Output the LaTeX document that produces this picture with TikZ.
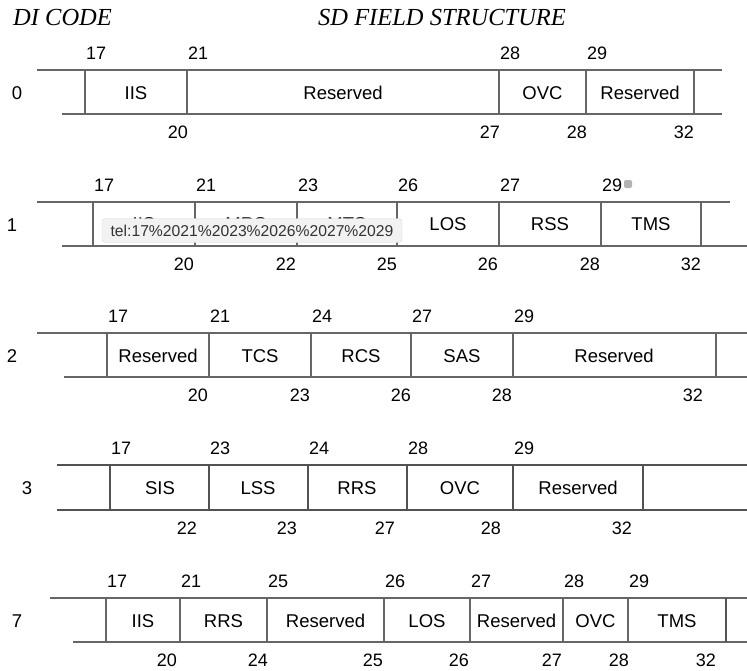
\documentclass[tikz,border=0pt]{standalone}
\usepackage{fontspec}
\setmainfont{Liberation Serif}
\setsansfont{Liberation Sans}
\usepackage{tikz}

\tikzset{
    rule/.style={draw=black!60, line width=1.3pt},
    darkrule/.style={draw=black!68, line width=1.6pt},
    lab/.style={font=\sffamily\fontsize{18.5}{18.5}\selectfont, anchor=base, inner sep=0pt},
    topnum/.style={lab, font=\sffamily\fontsize{18}{18}\selectfont, anchor=base west},
    botnum/.style={lab, font=\sffamily\fontsize{18}{18}\selectfont, anchor=base east},
    title/.style={font=\itshape\fontsize{24.5}{24.5}\selectfont, anchor=base west, inner sep=0pt},
    tip/.style={fill=black!5, draw=black!15, rounded corners=3pt, inner sep=0pt,
        minimum width=300pt, minimum height=24pt, text=black!80,
        font=\sffamily\fontsize{15.7}{15.7}\selectfont},
}

\begin{document}
\begin{tikzpicture}[x=1pt, y=-1pt]
    \useasboundingbox (0,0) rectangle (747,670);

    \node[title] (dicode) at (13,25) {DI CODE};
    \node[title] (sdfield) at (318,25) {SD FIELD STRUCTURE};

    % row 0
    \draw[rule] (37,70) -- (722,70); % top
    \draw[rule] (62,114) -- (722,114); % bottom
    \draw[rule] (85,70) -- (85,114) (187,70) -- (187,114) (499,70) -- (499,114)
        (586,70) -- (586,114) (694,70) -- (694,114);
    \node[lab] (di0) at (17,99.5) {0};
    \node[topnum] (t0a) at (86,59) {17};
    \node[topnum] (t0b) at (188,59) {21};
    \node[topnum] (t0c) at (500,59) {28};
    \node[topnum] (t0d) at (587,59) {29};
    \node[botnum] (b0a) at (188,138) {20};
    \node[botnum] (b0b) at (500,138) {27};
    \node[botnum] (b0c) at (587,138) {28};
    \node[botnum] (b0d) at (694,138) {32};
    \node[lab] (f0a) at (136,99.5) {IIS};
    \node[lab] (f0b) at (343,99.5) {Reserved};
    \node[lab] (f0c) at (542.5,99.5) {OVC};
    \node[lab] (f0d) at (640,99.5) {Reserved};

    % row 1
    \draw[rule] (37,202) -- (730,202); % top
    \draw[rule] (62,246) -- (747,246); % bottom
    \draw[rule] (93,202) -- (93,246) (195,202) -- (195,246) (297,202) -- (297,246)
        (397,202) -- (397,246) (499,202) -- (499,246) (601,202) -- (601,246)
        (701,202) -- (701,246);
    \node[lab] (di1) at (12,231) {1};
    \node[topnum] (t1a) at (94,191) {17};
    \node[topnum] (t1b) at (196,191) {21};
    \node[topnum] (t1c) at (298,191) {23};
    \node[topnum] (t1d) at (398,191) {26};
    \node[topnum] (t1e) at (500,191) {27};
    \node[topnum] (t1f) at (602,191) {29};
    \node[fill=black!30, rounded corners=2pt, minimum size=8pt, inner sep=0pt] (icon) at (628,184) {};
    \node[botnum] (b1a) at (194,270) {20};
    \node[botnum] (b1b) at (296,270) {22};
    \node[botnum] (b1c) at (397,270) {25};
    \node[botnum] (b1d) at (498,270) {26};
    \node[botnum] (b1e) at (600,270) {28};
    \node[botnum] (b1f) at (701,270) {32};
    \node[lab] (f1a) at (144,230) {IIS};
    \node[lab] (f1b) at (246,230) {MRS};
    \node[lab] (f1c) at (347,230) {MTS};
    \node[lab] (f1d) at (448,230) {LOS};
    \node[lab] (f1e) at (550,230) {RSS};
    \node[lab] (f1f) at (651,230) {TMS};
    \node[tip] (tel) at (252,230.5) {tel:17\%2021\%2023\%2026\%2027\%2029};

    % row 2
    \draw[rule] (37,333) -- (747,333); % top
    \draw[rule] (64,377) -- (747,377); % bottom
    \draw[rule] (107,333) -- (107,377) (209,333) -- (209,377) (311,333) -- (311,377)
        (411,333) -- (411,377) (513,333) -- (513,377) (716,333) -- (716,377);
    \node[lab] (di2) at (12,362) {2};
    \node[topnum] (t2a) at (108,322) {17};
    \node[topnum] (t2b) at (210,322) {21};
    \node[topnum] (t2c) at (312,322) {24};
    \node[topnum] (t2d) at (412,322) {27};
    \node[topnum] (t2e) at (514,322) {29};
    \node[botnum] (b2a) at (208,401) {20};
    \node[botnum] (b2b) at (310,401) {23};
    \node[botnum] (b2c) at (411,401) {26};
    \node[botnum] (b2d) at (512,401) {28};
    \node[botnum] (b2e) at (703,401) {32};
    \node[lab] (f2a) at (158,362) {Reserved};
    \node[lab] (f2b) at (260,362) {TCS};
    \node[lab] (f2c) at (361,362) {RCS};
    \node[lab] (f2d) at (462,362) {SAS};
    \node[lab] (f2e) at (614,362) {Reserved};

    % row 3
    \draw[darkrule] (57,465) -- (747,465); % top
    \draw[darkrule] (57,510) -- (747,510); % bottom
    \draw[darkrule] (110,465) -- (110,510) (209,465) -- (209,510) (308,465) -- (308,510)
        (407,465) -- (407,510) (513,465) -- (513,510) (643,465) -- (643,510);
    \node[lab] (di3) at (27,494.5) {3};
    \node[topnum] (t3a) at (111,454) {17};
    \node[topnum] (t3b) at (210,454) {23};
    \node[topnum] (t3c) at (309,454) {24};
    \node[topnum] (t3d) at (408,454) {28};
    \node[topnum] (t3e) at (514,454) {29};
    \node[botnum] (b3a) at (197,534) {22};
    \node[botnum] (b3b) at (297,534) {23};
    \node[botnum] (b3c) at (395,534) {27};
    \node[botnum] (b3d) at (501,534) {28};
    \node[botnum] (b3e) at (632,534) {32};
    \node[lab] (f3a) at (160,494.5) {SIS};
    \node[lab] (f3b) at (258,494.5) {LSS};
    \node[lab] (f3c) at (357,494.5) {RRS};
    \node[lab] (f3d) at (460,494.5) {OVC};
    \node[lab] (f3e) at (578,494.5) {Reserved};

    % row 7
    \draw[rule] (50,598) -- (747,598); % top
    \draw[rule] (73,642) -- (747,642); % bottom
    \draw[rule] (106,598) -- (106,642) (180,598) -- (180,642) (267,598) -- (267,642)
        (384,598) -- (384,642) (470,598) -- (470,642) (563,598) -- (563,642)
        (628,598) -- (628,642);
    \draw[darkrule] (726,598) -- (726,642);
    \node[lab] (di7) at (17,627) {7};
    \node[topnum] (t7a) at (107,587) {17};
    \node[topnum] (t7b) at (181,587) {21};
    \node[topnum] (t7c) at (268,587) {25};
    \node[topnum] (t7d) at (385,587) {26};
    \node[topnum] (t7e) at (471,587) {27};
    \node[topnum] (t7f) at (564,587) {28};
    \node[topnum] (t7g) at (629,587) {29};
    \node[botnum] (b7a) at (177,666) {20};
    \node[botnum] (b7b) at (268,666) {24};
    \node[botnum] (b7c) at (383,666) {25};
    \node[botnum] (b7d) at (469,666) {26};
    \node[botnum] (b7e) at (562,666) {27};
    \node[botnum] (b7f) at (629,666) {28};
    \node[botnum] (b7g) at (716,666) {32};
    \node[lab] (f7a) at (143,627) {IIS};
    \node[lab] (f7b) at (223.5,627) {RRS};
    \node[lab] (f7c) at (325.5,627) {Reserved};
    \node[lab] (f7d) at (427,627) {LOS};
    \node[lab] (f7e) at (516.5,627) {Reserved};
    \node[lab] (f7f) at (595.5,627) {OVC};
    \node[lab] (f7g) at (677,627) {TMS};
\end{tikzpicture}
\end{document}
